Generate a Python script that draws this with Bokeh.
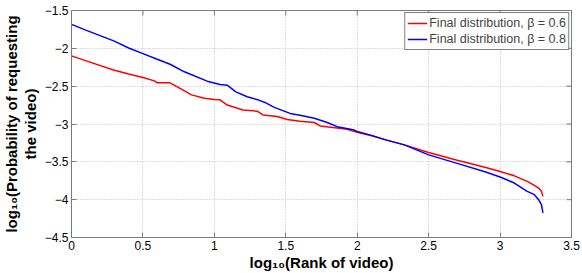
from bokeh.plotting import figure
from bokeh.models import FixedTicker, Legend, LegendItem, Range1d
from bokeh.embed import file_html
from bokeh.resources import INLINE

# ---- data ----
red_x = [0.00, 0.15, 0.30, 0.40, 0.50, 0.58, 0.60, 0.69, 0.76, 0.84, 0.93, 1.00, 1.04, 1.09,
         1.20, 1.30, 1.34, 1.44, 1.51, 1.60, 1.70, 1.74, 1.83, 1.93, 2.00, 2.10, 2.20, 2.33,
         2.50, 2.70, 2.90, 3.00, 3.10, 3.19, 3.24, 3.27, 3.29, 3.30]
red_y = [-2.100, -2.195, -2.290, -2.340, -2.386, -2.430, -2.455, -2.456, -2.530, -2.615, -2.660,
         -2.675, -2.680, -2.750, -2.815, -2.830, -2.880, -2.900, -2.940, -2.965, -2.980, -3.025,
         -3.045, -3.070, -3.110, -3.155, -3.210, -3.276, -3.377, -3.480, -3.575, -3.627, -3.685,
         -3.759, -3.810, -3.846, -3.890, -3.956]

blue_x = [0.00, 0.10, 0.30, 0.40, 0.50, 0.60, 0.69, 0.79, 0.95, 1.04, 1.09, 1.15, 1.23, 1.31,
          1.36, 1.42, 1.53, 1.60, 1.70, 1.79, 1.86, 1.98, 2.00, 2.10, 2.20, 2.33, 2.50, 2.70,
          2.90, 3.00, 3.10, 3.19, 3.24, 3.27, 3.29, 3.30]
blue_y = [-1.684, -1.760, -1.905, -1.995, -2.070, -2.145, -2.210, -2.310, -2.434, -2.478, -2.487,
          -2.575, -2.640, -2.684, -2.720, -2.780, -2.860, -2.885, -2.925, -2.980, -3.035, -3.080,
          -3.100, -3.150, -3.210, -3.276, -3.408, -3.520, -3.635, -3.700, -3.780, -3.890, -3.934,
          -4.000, -4.070, -4.175]

series_labels = ["Final distribution, \u03b2 = 0.6", "Final distribution, \u03b2 = 0.8"]

x_ticks = [0, 0.5, 1, 1.5, 2, 2.5, 3, 3.5]
x_tick_labels = ["0", "0.5", "1", "1.5", "2", "2.5", "3", "3.5"]
y_ticks = [-4.5, -4, -3.5, -3, -2.5, -2, -1.5]
y_tick_labels = ["\u22124.5", "\u22124", "\u22123.5", "\u22123", "\u22122.5", "\u22122", "\u22121.5"]

x_label_text = "log\u2081\u2080(Rank of video)"
y_label_text = "log\u2081\u2080(Probability of requesting\nthe video)"

# ---- layout ----
X0, X1 = 0.0, 3.5
Y0, Y1 = -4.5, -1.5
W, H = 582, 273
BL, BR, BT, BB = 71, 11, 10, 35
FW, FH = W - BL - BR, H - BT - BB
TICK = 5
FONT = "Liberation Sans"
AX_COL = "#7a7a7a"

p = figure(width=W, height=H,
           x_range=Range1d(X0, X1), y_range=Range1d(Y0, Y1),
           output_backend="svg", toolbar_location=None,
           min_border_left=BL, min_border_right=BR, min_border_top=BT, min_border_bottom=BB,
           background_fill_color="white", border_fill_color="white",
           outline_line_color=AX_COL, outline_line_width=1)

x_over = {t: l for t, l in zip(x_ticks, x_tick_labels)}
y_over = {t: l for t, l in zip(y_ticks, y_tick_labels)}


def style_axis(ax, ticks, overrides):
    ax.ticker = FixedTicker(ticks=ticks)
    ax.major_tick_in = TICK
    ax.major_tick_out = 0
    ax.minor_tick_line_color = None
    ax.axis_line_color = AX_COL
    ax.major_tick_line_color = AX_COL
    ax.major_label_text_font = FONT
    ax.major_label_text_color = "black"
    ax.major_label_overrides = overrides
    ax.major_label_text_font_size = "12px"
    ax.major_label_standoff = 3


def style_label(ax, text, standoff):
    ax.axis_label = text
    ax.axis_label_text_font = FONT
    ax.axis_label_text_font_size = "15px"
    ax.axis_label_text_font_style = "bold"
    ax.axis_label_text_color = "black"
    ax.axis_label_standoff = standoff
    ax.axis_label_text_align = "center"
    ax.axis_label_text_line_height = 1.1


style_axis(p.xaxis[0], x_ticks, x_over)
style_axis(p.yaxis[0], y_ticks, y_over)
style_label(p.xaxis[0], x_label_text, 1)
style_label(p.yaxis[0], y_label_text, 3)

for g, t in ((p.xgrid[0], x_ticks), (p.ygrid[0], y_ticks)):
    g.ticker = FixedTicker(ticks=t)
    g.grid_line_color = "#b8b8b8"
    g.grid_line_dash = "1 2"
    g.grid_line_width = 1

# mirrored inward ticks on the top and right edges (from the tick arrays)
tx = TICK * (X1 - X0) / FW
ty = TICK * (Y1 - Y0) / FH
p.segment(x0=x_ticks, y0=[Y1] * len(x_ticks), x1=x_ticks, y1=[Y1 - ty] * len(x_ticks),
          line_color=AX_COL, line_width=1)
p.segment(x0=[X1] * len(y_ticks), y0=y_ticks, x1=[X1 - tx] * len(y_ticks), y1=y_ticks,
          line_color=AX_COL, line_width=1)

r_red = p.line(red_x, red_y, line_color="#ff0000", line_width=1.5)
r_blue = p.line(blue_x, blue_y, line_color="#0000ff", line_width=1.5)

legend = Legend(items=[LegendItem(label=series_labels[0], renderers=[r_red]),
                       LegendItem(label=series_labels[1], renderers=[r_blue])],
                location="top_right", margin=2, padding=2, spacing=0,
                label_standoff=2, glyph_width=20, glyph_height=16, label_height=16,
                border_line_color="black", border_line_width=1,
                label_text_font=FONT, label_text_font_size="12.5px",
                background_fill_color="white", background_fill_alpha=1)
p.add_layout(legend)

open("out.html", "w").write(file_html(p, INLINE))
